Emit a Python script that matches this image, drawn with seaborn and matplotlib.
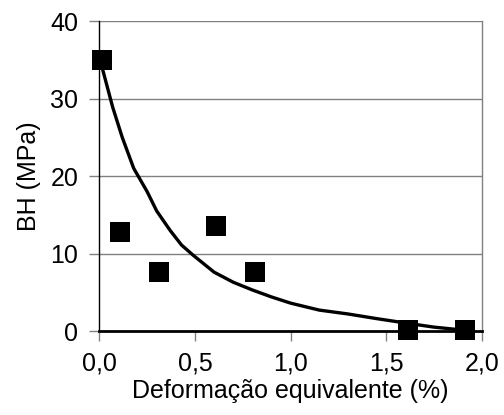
import matplotlib
matplotlib.use("Agg")
import matplotlib.pyplot as plt
import seaborn as sns
import pandas as pd
from matplotlib.ticker import FuncFormatter

sns.set_theme(style="white")
plt.rcParams['font.family'] = ['Liberation Sans', 'DejaVu Sans']
plt.rcParams['text.color'] = 'black'
plt.rcParams['axes.labelcolor'] = 'black'

# Measured points
pts_x = [0.015, 0.11, 0.31, 0.61, 0.815, 1.615, 1.91]
pts_y = [35.0, 12.8, 7.6, 13.6, 7.6, 0.1, 0.1]

# Fitted curve
fit_x = [0.015, 0.07, 0.12, 0.18, 0.25, 0.30, 0.37, 0.43, 0.49, 0.60, 0.70, 0.80, 0.90, 1.00, 1.15, 1.30, 1.45, 1.61, 1.75, 1.91]
fit_y = [34.0, 28.9, 25.0, 21.0, 18.0, 15.5, 13.0, 11.1, 9.8, 7.6, 6.3, 5.3, 4.4, 3.6, 2.7, 2.2, 1.6, 1.0, 0.5, 0.1]

x_ticks = [0.0, 0.5, 1.0, 1.5, 2.0]
y_ticks = [0, 10, 20, 30, 40]

pts = pd.DataFrame({"x": pts_x, "y": pts_y})
fit = pd.DataFrame({"x": fit_x, "y": fit_y})

fig = plt.figure(figsize=(5.04, 4.15), dpi=100)
ax = fig.add_axes([0.197, 0.2024, 0.759, 0.7466])

for yv in y_ticks[1:]:
    ax.axhline(yv, color="#808080", lw=1.0, zorder=0)

sns.lineplot(data=fit, x="x", y="y", ax=ax, color="black", lw=2.4, sort=False, zorder=3)
sns.scatterplot(data=pts, x="x", y="y", ax=ax, marker="s", s=190, color="black",
                edgecolor="black", linewidth=0, zorder=4, clip_on=False)

ax.set_xlim(0, 2.0)
ax.set_ylim(0, 40)
ax.set_xticks(x_ticks)
ax.set_yticks(y_ticks)
ax.xaxis.set_major_formatter(FuncFormatter(lambda v, p: f"{v:.1f}".replace(".", ",")))
ax.yaxis.set_major_formatter(FuncFormatter(lambda v, p: f"{int(v)}"))

ax.spines["top"].set_visible(False)
ax.spines["right"].set_color("#808080")
ax.spines["right"].set_linewidth(1.0)
ax.spines["left"].set_color("black")
ax.spines["left"].set_linewidth(1.0)
ax.spines["bottom"].set_color("black")
ax.spines["bottom"].set_linewidth(2.0)

ax.tick_params(axis="both", direction="out", length=7, width=1, color="#808080",
               labelsize=18, pad=8, labelcolor="black")
ax.tick_params(axis="x", bottom=True)
ax.tick_params(axis="y", left=True)

ax.set_xlabel("Deformação equivalente (%)", fontsize=18, labelpad=2, color="black")
ax.set_ylabel("BH (MPa)", fontsize=18, labelpad=7, color="black")

fig.savefig("out.png", dpi=100)
